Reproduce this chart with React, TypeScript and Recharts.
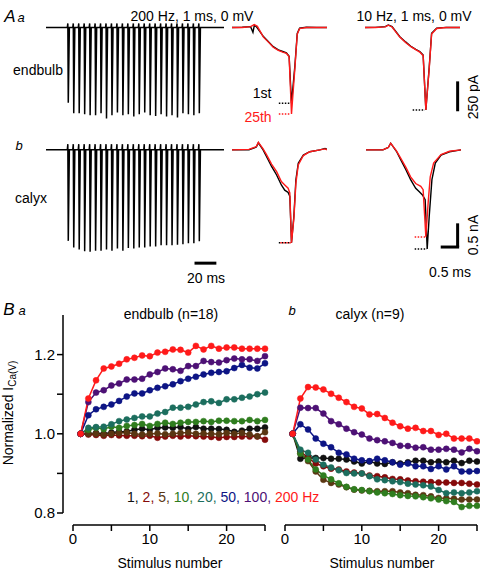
import React from 'react';
import { LineChart, Line, XAxis, YAxis, ReferenceLine } from 'recharts';

const FONT = '"Liberation Sans", Arial, Helvetica, sans-serif';

// ---------------- Panel B data ----------------
const stimulusNumber = [1, 2, 3, 4, 5, 6, 7, 8, 9, 10, 11, 12, 13, 14, 15, 16, 17, 18, 19, 20, 21, 22, 23, 24, 25];
const frequencies = ['1', '2', '5', '10', '20', '50', '100', '200'];
const seriesColors = ['#111111', '#850a0a', '#5a3612', '#2f7d1f', '#1c6e5e', '#0d1585', '#4d1175', '#ff1a1a'];

const endbulb1 = [1.0, 1.0, 1.002, 1.0, 1.003, 1.005, 1.006, 1.01, 1.013, 1.01, 1.015, 1.016, 1.015, 1.017, 1.012, 1.017, 1.013, 1.013, 1.012, 1.01, 1.005, 1.008, 1.013, 1.013, 1.016];
const endbulb2 = [1.0, 0.998, 0.997, 0.995, 0.997, 0.996, 0.995, 0.995, 0.994, 0.995, 0.99, 0.993, 0.995, 0.993, 0.995, 0.994, 0.993, 0.992, 0.99, 0.992, 0.992, 0.993, 0.993, 0.993, 0.985];
const endbulb5 = [1.0, 1.0, 1.0, 0.998, 1.0, 1.002, 1.003, 1.0, 0.998, 1.0, 1.001, 0.999, 1.0, 1.002, 1.003, 1.0, 1.001, 1.0, 0.999, 1.002, 1.0, 1.002, 0.998, 0.994, 1.004];
const endbulb10 = [1.0, 1.01, 1.015, 1.012, 1.018, 1.015, 1.02, 1.022, 1.025, 1.02, 1.025, 1.028, 1.025, 1.028, 1.03, 1.03, 1.032, 1.03, 1.033, 1.033, 1.032, 1.032, 1.035, 1.032, 1.035];
const endbulb20 = [1.0, 1.015, 1.017, 1.018, 1.024, 1.032, 1.036, 1.04, 1.044, 1.044, 1.051, 1.055, 1.066, 1.066, 1.068, 1.074, 1.08, 1.082, 1.078, 1.087, 1.087, 1.091, 1.094, 1.1, 1.104];
const endbulb50 = [1.0, 1.047, 1.062, 1.068, 1.074, 1.083, 1.094, 1.102, 1.102, 1.11, 1.116, 1.12, 1.125, 1.133, 1.139, 1.144, 1.15, 1.154, 1.156, 1.158, 1.166, 1.174, 1.167, 1.165, 1.178];
const endbulb100 = [1.0, 1.08, 1.104, 1.11, 1.122, 1.127, 1.137, 1.137, 1.139, 1.15, 1.156, 1.165, 1.163, 1.159, 1.171, 1.171, 1.184, 1.181, 1.18, 1.186, 1.19, 1.188, 1.188, 1.184, 1.196];
const endbulb200 = [1.0, 1.089, 1.135, 1.165, 1.17, 1.177, 1.188, 1.192, 1.198, 1.196, 1.205, 1.207, 1.213, 1.212, 1.205, 1.222, 1.213, 1.222, 1.215, 1.218, 1.218, 1.215, 1.215, 1.215, 1.215];

const calyx1 = [1.0, 0.937, 0.939, 0.939, 0.939, 0.937, 0.937, 0.935, 0.93, 0.925, 0.93, 0.925, 0.924, 0.928, 0.925, 0.928, 0.932, 0.932, 0.928, 0.93, 0.928, 0.932, 0.926, 0.932, 0.93];
const calyx2 = [1.0, 0.955, 0.94, 0.925, 0.918, 0.912, 0.91, 0.905, 0.902, 0.9, 0.895, 0.893, 0.89, 0.886, 0.885, 0.882, 0.88, 0.879, 0.878, 0.877, 0.877, 0.876, 0.876, 0.874, 0.872];
const calyx5 = [1.0, 0.95, 0.931, 0.905, 0.884, 0.876, 0.872, 0.865, 0.859, 0.857, 0.856, 0.855, 0.855, 0.855, 0.852, 0.85, 0.846, 0.845, 0.842, 0.838, 0.837, 0.836, 0.834, 0.834, 0.834];
const calyx10 = [1.0, 0.95, 0.935, 0.91, 0.895, 0.885, 0.875, 0.866, 0.86, 0.858, 0.855, 0.852, 0.85, 0.848, 0.845, 0.843, 0.842, 0.84, 0.837, 0.834, 0.83, 0.828, 0.815, 0.818, 0.818];
const calyx20 = [1.0, 0.96, 0.952, 0.935, 0.922, 0.915, 0.908, 0.901, 0.9, 0.9, 0.893, 0.885, 0.883, 0.88, 0.878, 0.874, 0.872, 0.87, 0.867, 0.858, 0.85, 0.852, 0.85, 0.852, 0.855];
const calyx50 = [1.0, 1.024, 1.011, 0.988, 0.975, 0.966, 0.952, 0.948, 0.937, 0.933, 0.931, 0.937, 0.933, 0.928, 0.922, 0.925, 0.918, 0.918, 0.911, 0.918, 0.91, 0.918, 0.905, 0.905, 0.906];
const calyx100 = [1.0, 1.066, 1.065, 1.065, 1.051, 1.032, 1.024, 1.013, 1.004, 0.998, 0.988, 0.984, 0.981, 0.977, 0.97, 0.969, 0.965, 0.966, 0.96, 0.96, 0.962, 0.96, 0.953, 0.962, 0.956];
const calyx200 = [1.0, 1.089, 1.118, 1.117, 1.112, 1.101, 1.091, 1.08, 1.068, 1.064, 1.049, 1.05, 1.04, 1.028, 1.019, 1.013, 1.015, 1.007, 1.007, 0.997, 1.0, 0.988, 0.988, 0.988, 0.981];

const yTicksB = [0.8, 0.9, 1.0, 1.1, 1.2];
const yLabelsB = ['0.8', '1.0', '1.2'];
const xTicksB = [0, 5, 10, 15, 20, 25];
const xLabelsB = ['0', '10', '20'];

// ---------------- Panel A data ----------------
const stimTimes200Hz = [0, 5, 10, 15, 20, 25, 30, 35, 40, 45, 50, 55, 60, 65, 70, 75, 80, 85, 90, 95, 100, 105, 110, 115, 120];
const endbulbTrainPeaksPA = [628, 717, 717, 725, 733, 733, 717, 761, 733, 711, 733, 725, 744, 725, 711, 733, 739, 725, 744, 733, 753, 717, 725, 733, 717];
const calyxTrainPeaksNA = [1.92, 2.06, 2.1, 2.14, 2.15, 2.13, 2.13, 2.1, 2.13, 2.08, 2.13, 2.07, 2.08, 2.06, 2.06, 2.04, 2.04, 2.01, 2.01, 2.01, 2.0, 1.99, 1.97, 1.97, 1.93];

// overlay traces (time in ms, current in pA or nA)
const eb200FirstT = [0, 0.3, 0.55, 0.62, 0.66, 0.72, 0.93, 1.1, 1.22, 1.37, 1.5, 1.61, 1.69, 1.76, 1.86, 1.93, 2.0, 2.2, 2.5, 2.81];
const eb200FirstV = [0, 3, 8, -40, 18, 8, -75, -125, -160, -187, -200, -212, -240, -633, -320, -50, -5, 3, 0, 0];
const eb200LastT = [0, 0.3, 0.55, 0.66, 0.75, 0.93, 1.1, 1.22, 1.37, 1.5, 1.61, 1.69, 1.76, 1.86, 1.93, 2.0, 2.2, 2.5, 2.81];
const eb200LastV = [0, 0, 8, 25, 10, -80, -128, -165, -190, -205, -215, -245, -722, -340, -55, -8, 0, 2, 0];
const eb10FirstT = [0, 0.3, 0.6, 0.69, 0.8, 1.03, 1.2, 1.37, 1.5, 1.62, 1.72, 1.8, 1.9, 1.97, 2.12, 2.4, 2.81];
const eb10FirstV = [0, 2, 8, 22, 8, -76, -120, -160, -183, -200, -230, -689, -330, -48, -5, 2, 0];
const eb10LastT = [0, 0.3, 0.6, 0.69, 0.8, 1.03, 1.2, 1.37, 1.5, 1.62, 1.72, 1.8, 1.9, 1.97, 2.12, 2.4, 2.81];
const eb10LastV = [0, 0, 6, 20, 5, -80, -125, -162, -185, -205, -235, -689, -340, -55, -8, 0, 0];

const cx200FirstT = [0, 0.5, 0.72, 0.78, 0.92, 1.02, 1.17, 1.32, 1.46, 1.56, 1.66, 1.71, 1.76, 1.83, 1.89, 1.96, 2.11, 2.3, 2.6, 2.75, 2.81];
const cx200FirstV = [0, 0, 0.06, 0.15, 0, -0.14, -0.35, -0.53, -0.74, -0.85, -0.9, -0.98, -1.96, -1.4, -0.63, -0.28, -0.11, -0.04, 0, 0.03, 0.01];
const cx200LastT = [0, 0.5, 0.72, 0.78, 0.92, 1.02, 1.17, 1.32, 1.46, 1.56, 1.66, 1.71, 1.76, 1.83, 1.89, 1.96, 2.11, 2.3, 2.6, 2.75, 2.81];
const cx200LastV = [0, 0.01, 0.07, 0.16, 0.02, -0.1, -0.3, -0.46, -0.67, -0.74, -0.81, -0.91, -1.96, -1.45, -0.7, -0.32, -0.12, -0.04, 0, 0.02, 0];
const cx10FirstT = [0, 0.5, 0.66, 0.73, 0.9, 1.03, 1.18, 1.32, 1.47, 1.57, 1.67, 1.75, 1.81, 1.87, 1.95, 2.05, 2.22, 2.47, 2.81];
const cx10FirstV = [0, 0, 0.05, 0.14, -0.03, -0.21, -0.42, -0.63, -0.81, -0.88, -0.95, -1.05, -2.09, -1.4, -0.63, -0.28, -0.11, -0.04, 0];
const cx10LastT = [0, 0.5, 0.66, 0.73, 0.9, 1.03, 1.18, 1.32, 1.47, 1.62, 1.69, 1.77, 1.84, 1.9, 2.0, 2.22, 2.47, 2.81];
const cx10LastV = [0, 0, 0.05, 0.14, -0.02, -0.18, -0.37, -0.57, -0.71, -0.77, -0.84, -1.83, -1.1, -0.57, -0.28, -0.1, -0.03, 0];

// ---------------- helpers ----------------
const endbulbSeries = [endbulb1, endbulb2, endbulb5, endbulb10, endbulb20, endbulb50, endbulb100, endbulb200];
const calyxSeries = [calyx1, calyx2, calyx5, calyx10, calyx20, calyx50, calyx100, calyx200];

const buildRows = (series: number[][]) =>
  stimulusNumber.map((n, i) => {
    const row: Record<string, number> = { n };
    frequencies.forEach((f, k) => {
      row['f' + f] = series[k][i];
    });
    return row;
  });

const endbulbRows = buildRows(endbulbSeries);
const calyxRows = buildRows(calyxSeries);

const toPoints = (ts: number[], vs: number[]) => ts.map((t, i) => ({ t, v: vs[i] }));

const buildTrain = (times: number[], peaks: number[], artifact: number, start: number, end: number) => {
  const pts = [{ t: start, v: 0 }];
  times.forEach((t0, i) => {
    pts.push({ t: t0 - 0.5, v: 0 }, { t: t0, v: artifact }, { t: t0 + 0.4, v: -peaks[i] }, { t: t0 + 1.4, v: 0 });
  });
  pts.push({ t: end, v: 0 });
  return pts;
};

const T = ({ x, y, children, size = 14, color = '#000', italic = false, rotate = 0, start = false }: any) => (
  <div
    style={{
      position: 'absolute',
      left: x,
      top: y,
      transform: `translate(${start ? '0' : '-50%'}, -50%) rotate(${rotate}deg)`,
      fontFamily: FONT,
      fontSize: size,
      color,
      fontStyle: italic ? 'italic' : 'normal',
      whiteSpace: 'nowrap',
      lineHeight: 1,
    }}
  >
    {children}
  </div>
);

const Box = ({ x, y, children }: any) => (
  <div style={{ position: 'absolute', left: x, top: y }}>{children}</div>
);

const M0 = { top: 0, right: 0, bottom: 0, left: 0 };
const EB_DOMAIN = [-840, 80];
const CX_DOMAIN = [-2.45, 0.25];

const TraceChart = ({ w, h, xDomain, yDomain, black, red, children, width = 1.4 }: any) => (
  <LineChart width={w} height={h} margin={M0}>
    <XAxis type="number" dataKey="t" domain={xDomain} hide />
    <YAxis type="number" dataKey="v" domain={yDomain} hide />
    {black && (
      <Line data={black} dataKey="v" type="linear" stroke="#000" strokeWidth={width} dot={false} activeDot={false} isAnimationActive={false} />
    )}
    {red && (
      <Line data={red} dataKey="v" type="linear" stroke="#ff1a1a" strokeWidth={width} dot={false} activeDot={false} isAnimationActive={false} />
    )}
    {children}
  </LineChart>
);

const dotted = (x1: number, x2: number, y: number, color: string, offset = 0) => (
  <ReferenceLine
    segment={[{ x: x1, y }, { x: x2, y }]}
    stroke={color}
    strokeWidth={1.5}
    strokeDasharray="1.5 1.5"
    strokeDashoffset={offset}
    ifOverflow="visible"
  />
);

const axisStyle = { stroke: '#000', strokeWidth: 1.5 };
const tickStyle = { fill: '#000', fontSize: 15, fontFamily: FONT };

const seriesLines = () =>
  frequencies.map((f, k) => (
    <Line
      key={f}
      dataKey={'f' + f}
      type="linear"
      stroke={seriesColors[k]}
      strokeWidth={1.5}
      dot={{ r: 3, fill: seriesColors[k], stroke: seriesColors[k], strokeWidth: 0.5 }}
      activeDot={false}
      isAnimationActive={false}
    />
  ));

export default function App() {
  return (
    <div style={{ position: 'absolute', left: 0, top: 0, width: 480, height: 572, background: '#fff', overflow: 'hidden' }}>
      {/* ---------- Panel A ---------- */}
      <T x={10} y={16} size={17} italic>A</T>
      <T x={21} y={17} size={13} italic>a</T>
      <T x={192} y={16}>200 Hz, 1 ms, 0 mV</T>
      <T x={414} y={16}>10 Hz, 1 ms, 0 mV</T>
      <T x={38} y={70}>endbulb</T>
      <T x={19} y={145} size={13} italic>b</T>
      <T x={31} y={198}>calyx</T>

      <Box x={46} y={18}>
        <TraceChart w={178} h={110} xDomain={[-20, 143]} yDomain={EB_DOMAIN} width={1.5}
          black={buildTrain(stimTimes200Hz, endbulbTrainPeaksPA, 35, -20, 143)} />
      </Box>
      <Box x={46} y={138}>
        <TraceChart w={178} h={128} xDomain={[-20, 143]} yDomain={CX_DOMAIN} width={1.5}
          black={buildTrain(stimTimes200Hz, calyxTrainPeaksNA, 0.12, -20, 143)}>
          <ReferenceLine segment={[{ x: 116, y: -2.39 }, { x: 136, y: -2.39 }]} stroke="#000" strokeWidth={3} ifOverflow="visible" />
        </TraceChart>
      </Box>

      <Box x={232} y={18}>
        <TraceChart w={95} h={110} xDomain={[0, 2.8]} yDomain={EB_DOMAIN}
          black={toPoints(eb200FirstT, eb200FirstV)} red={toPoints(eb200LastT, eb200LastV)}>
          {dotted(1.385, 1.71, -633, '#000')}
          {dotted(1.385, 1.71, -722, '#ff1a1a')}
        </TraceChart>
      </Box>
      <Box x={365} y={18}>
        <TraceChart w={95} h={110} xDomain={[0, 2.8]} yDomain={EB_DOMAIN}
          black={toPoints(eb10FirstT, eb10FirstV)} red={toPoints(eb10LastT, eb10LastV)}>
          {dotted(1.41, 1.77, -689, '#000')}
          <ReferenceLine segment={[{ x: 2.74, y: -450 }, { x: 2.74, y: -700 }]} stroke="#000" strokeWidth={3} ifOverflow="visible" />
        </TraceChart>
      </Box>
      <Box x={232} y={138}>
        <TraceChart w={95} h={128} xDomain={[0, 2.8]} yDomain={CX_DOMAIN}
          black={toPoints(cx200FirstT, cx200FirstV)} red={toPoints(cx200LastT, cx200LastV)}>
          {dotted(1.385, 1.74, -1.96, '#000')}
          {dotted(1.385, 1.74, -1.96, '#ff1a1a', 1.5)}
        </TraceChart>
      </Box>
      <Box x={366} y={138}>
        <TraceChart w={95} h={128} xDomain={[0, 2.8]} yDomain={CX_DOMAIN}
          black={toPoints(cx10FirstT, cx10FirstV)} red={toPoints(cx10LastT, cx10LastV)}>
          {dotted(1.44, 1.8, -1.84, '#ff1a1a')}
          {dotted(1.44, 1.8, -2.09, '#000')}
          <ReferenceLine segment={[{ x: 2.71, y: -1.55 }, { x: 2.71, y: -2.05 }]} stroke="#000" strokeWidth={3} ifOverflow="visible" />
          <ReferenceLine segment={[{ x: 2.21, y: -2.05 }, { x: 2.755, y: -2.05 }]} stroke="#000" strokeWidth={3} ifOverflow="visible" />
        </TraceChart>
      </Box>

      <T x={262} y={93}>1st</T>
      <T x={258} y={117} color="#ff1a1a">25th</T>
      <T x={473} y={97} rotate={-90}>250 pA</T>
      <T x={473} y={235} rotate={-90}>0.5 nA</T>
      <T x={450} y={272}>0.5 ms</T>
      <T x={206} y={278}>20 ms</T>

      {/* ---------- Panel B ---------- */}
      <T x={9} y={309} size={17} italic>B</T>
      <T x={22} y={310} size={13} italic>a</T>
      <T x={171} y={314}>endbulb (n=18)</T>
      <T x={292} y={310} size={13} italic>b</T>
      <T x={370} y={314}>calyx (n=9)</T>
      <T x={8} y={413} rotate={-90}>
        Normalized I<span style={{ fontSize: 10, position: 'relative', top: 3 }}>Ca(V)</span>
      </T>

      {/* left y axis */}
      <Box x={0} y={300}>
        <LineChart width={70} height={230} margin={{ top: 15, right: 0, bottom: 17, left: 0 }} data={endbulbRows}>
          <XAxis type="number" dataKey="n" domain={[0, 25]} hide />
          <YAxis
            type="number"
            width={63}
            domain={[0.8, 1.3]}
            ticks={yTicksB}
            interval={0}
            tickSize={6}
            tickLine={axisStyle}
            axisLine={axisStyle}
            tick={tickStyle}
            tickFormatter={(v: number) => (yLabelsB.includes(v.toFixed(1)) ? v.toFixed(1) : '')}
          />
          <Line dataKey="f1" stroke="none" dot={false} activeDot={false} isAnimationActive={false} />
        </LineChart>
      </Box>

      {/* left data + x axis */}
      <Box x={0} y={300}>
        <LineChart width={280} height={272} margin={{ top: 15, right: 15, bottom: 0, left: 73 }} data={endbulbRows}>
          <XAxis
            type="number"
            dataKey="n"
            domain={[0, 25]}
            ticks={xTicksB}
            interval={0}
            height={47}
            tickSize={6}
            tickLine={axisStyle}
            axisLine={axisStyle}
            tick={tickStyle}
            tickFormatter={(v: number) => (xLabelsB.includes(String(v)) ? String(v) : '')}
          />
          <YAxis type="number" domain={[0.8, 1.3]} padding={{ top: 0, bottom: 12 }} hide />
          {seriesLines()}
        </LineChart>
      </Box>

      {/* right data + x axis */}
      <Box x={280} y={300}>
        <LineChart width={200} height={272} margin={{ top: 15, right: 3, bottom: 0, left: 5 }} data={calyxRows}>
          <XAxis
            type="number"
            dataKey="n"
            domain={[0, 25]}
            ticks={xTicksB}
            interval={0}
            height={47}
            tickSize={6}
            tickLine={axisStyle}
            axisLine={axisStyle}
            tick={tickStyle}
            tickFormatter={(v: number) => (xLabelsB.includes(String(v)) ? String(v) : '')}
          />
          <YAxis type="number" domain={[0.8, 1.3]} padding={{ top: 0, bottom: 12 }} hide />
          {seriesLines()}
        </LineChart>
      </Box>

      {/* legend text */}
      <T x={127} y={497} start>
        {frequencies.map((f, k) => (
          <span key={f} style={{ color: seriesColors[k] }}>
            {f}
            {k < frequencies.length - 1 ? ', ' : ' Hz'}
          </span>
        ))}
      </T>

      <T x={170} y={563}>Stimulus number</T>
      <T x={382} y={563}>Stimulus number</T>
    </div>
  );
}
